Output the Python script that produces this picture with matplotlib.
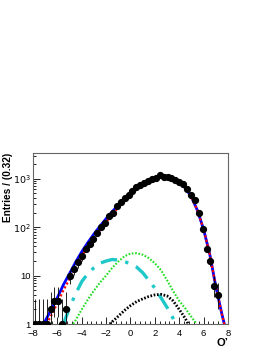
import numpy as np
import matplotlib
matplotlib.use("Agg")
import matplotlib.pyplot as plt
from matplotlib.ticker import FixedLocator, MultipleLocator, LogLocator, NullFormatter, FuncFormatter

plt.rcParams['font.family'] = ['Liberation Sans', 'DejaVu Sans']

# ---- data ----
bin_width = 0.32
bin_centers = [-7.84, -7.52, -7.20, -6.88, -6.56, -6.24, -5.92, -5.60, -5.28, -4.96,
               -4.64, -4.32, -4.00, -3.68, -3.36, -3.04, -2.72, -2.40, -2.08, -1.76,
               -1.44, -1.12, -0.80, -0.48, -0.16, 0.16, 0.48, 0.80, 1.12, 1.44,
               1.76, 2.08, 2.40, 2.72, 3.04, 3.36, 3.68, 4.00, 4.32, 4.64,
               4.96, 5.28, 5.60, 5.92, 6.24, 6.56, 6.88, 7.20, 7.52, 7.84]
counts = [1, 1, 1, 1, 2, 3, 3, 1, 2, 10,
          14, 19, 25, 36, 45, 58, 75, 100, 122, 170,
          200, 280, 330, 400, 470, 560, 680, 760, 830, 900,
          1000, 1060, 1200, 1110, 1080, 1040, 940, 860, 770, 600,
          470, 360, 195, 92, 36, 20, 6, 4, 0, 0]

# total fit (blue solid)
tot_x = [-7.1, -7.0, -6.5, -6.0, -5.5, -5.0, -4.5, -4.0, -3.5, -3.0, -2.5, -2.0, -1.5, -1.0,
         -0.5, 0.0, 0.5, 1.0, 1.5, 2.0, 2.5, 3.0, 3.5, 4.0, 4.5, 5.0, 5.5, 6.0, 6.5, 7.0, 7.5, 7.7]
tot_y = [1.0, 1.15, 2.0, 3.5, 6.5, 11, 19, 31, 48, 72, 105, 150, 210, 285,
         380, 500, 640, 790, 930, 1050, 1140, 1140, 1050, 870, 640, 420, 220, 90, 28, 6, 1.6, 1.0]
# red dotted component
red_x = [-6.9, -6.5, -6.0, -5.5, -5.0, -4.5, -4.0, -3.5, -3.0, -2.5, -2.0, -1.5, -1.0,
         -0.5, 0.0, 0.5, 1.0, 1.5, 2.0, 2.5, 3.0, 3.5, 4.0, 4.5, 5.0, 5.5, 6.0, 6.5, 7.0, 7.5, 7.7]
red_y = [1.0, 1.5, 2.7, 5.0, 8.5, 15, 25, 39, 60, 88, 128, 183, 255,
         345, 460, 600, 750, 895, 1020, 1120, 1130, 1045, 868, 640, 420, 220, 90, 28, 6, 1.6, 1.0]
# cyan dash-dot component
cyan_x = [-5.5, -5.0, -4.5, -4.0, -3.5, -3.0, -2.5, -2.0, -1.5, -1.0, -0.5, 0.0, 0.5,
          1.0, 1.5, 2.0, 2.5, 3.0, 3.5, 3.7]
cyan_y = [1.0, 2.2, 4.2, 7.5, 11, 14.5, 18, 20, 21.5, 21, 19.5, 17.5, 15,
          11.5, 8, 5.5, 3.5, 2.2, 1.3, 1.0]
# green dotted component
green_x = [-4.7, -4.5, -4.0, -3.5, -3.0, -2.5, -2.0, -1.5, -1.0, -0.5, 0.0, 0.5, 1.0,
           1.5, 2.0, 2.5, 3.0, 3.5, 4.0, 4.5, 5.0, 5.43]
green_y = [1.0, 1.2, 2.0, 3.2, 4.9, 7.2, 10, 14.5, 19.5, 25, 28.5, 29, 27,
           23, 18, 13, 8, 4.8, 3.0, 2.1, 1.4, 1.0]
# black dotted component
blk_x = [-1.7, -1.0, -0.5, 0.0, 0.5, 1.0, 1.5, 2.0, 2.5, 3.0, 3.5, 4.0, 4.5, 4.74]
blk_y = [1.0, 1.45, 1.9, 2.4, 2.9, 3.3, 3.7, 4.0, 4.1, 3.8, 3.0, 2.0, 1.3, 1.0]

# Poisson (68%) interval bounds for small counts
poisson_lo = {0: 0.0, 1: 0.173, 2: 0.708, 3: 1.367, 4: 2.086, 5: 2.840, 6: 3.620}
poisson_hi = {0: 1.841, 1: 3.300, 2: 4.638, 3: 5.918, 4: 7.163, 5: 8.382, 6: 9.584}

fig = plt.figure(figsize=(2.74, 3.55), dpi=100)
ax = fig.add_axes([0.1204, 0.0873, 0.832 - 0.1204, 0.569 - 0.0873])

x = np.array(bin_centers)
n = np.array(counts, dtype=float)
lo = np.array([poisson_lo[int(c)] if c <= 6 else c - np.sqrt(c) for c in counts])
hi = np.array([poisson_hi[int(c)] if c <= 6 else c + np.sqrt(c) for c in counts])
mask = n > 0

ax.plot(tot_x, tot_y, color='#0000ff', lw=2.0, zorder=3)
ax.plot(red_x, red_y, color='#ff0000', lw=1.6, ls=(0, (1, 1)), zorder=4)
ax.plot(cyan_x, cyan_y, color='#1ec8c8', lw=2.4, ls=(0, (5, 2.5, 1, 2.5)), zorder=3)
ax.plot(green_x, green_y, color='#22dd22', lw=1.5, ls=(0, (0.8, 0.8)), zorder=3)
ax.plot(blk_x, blk_y, color='black', lw=2.0, ls=(0, (0.6, 0.6)), zorder=3)

ax.errorbar(x[mask], n[mask], yerr=[n[mask] - lo[mask], hi[mask] - n[mask]],
            fmt='o', color='black', ms=4.2, elinewidth=0.6, capsize=0, zorder=5)

ax.set_yscale('log')
ax.set_xlim(-8, 8)
ax.set_ylim(1, 3400)

ax.xaxis.set_major_locator(MultipleLocator(2))
ax.xaxis.set_minor_locator(MultipleLocator(0.4))
ax.yaxis.set_major_locator(FixedLocator([1, 10, 100, 1000]))
ax.yaxis.set_minor_locator(LogLocator(base=10, subs=np.arange(2, 10)))
ax.yaxis.set_minor_formatter(NullFormatter())

def yfmt(v, pos):
    if abs(v - 1) < 1e-9:
        return '1'
    if abs(v - 10) < 1e-9:
        return '10'
    return r'$10^{%d}$' % int(round(np.log10(v)))
ax.yaxis.set_major_formatter(FuncFormatter(yfmt))
ax.xaxis.set_major_formatter(FuncFormatter(lambda v, p: ('\u2212%d' % -v) if v < 0 else '%d' % v))

ax.tick_params(axis='both', which='both', direction='in', labelsize=6.8, colors='black',
               top=False, right=False)
ax.tick_params(axis='y', which='both', pad=1.5)
ax.tick_params(axis='x', which='both', pad=3.5)
ax.tick_params(axis='both', which='major', length=5, width=0.6)
ax.tick_params(axis='both', which='minor', length=2.5, width=0.6)
for s in ax.spines.values():
    s.set_linewidth(0.8)
    s.set_color('#666666')

fig.text(0.028, 0.569, 'Entries / (0.32)', rotation=90, ha='center', va='top',
         fontsize=7.3, fontweight='bold')
fig.text(0.832, 0.02, 'O\u2019', ha='right', va='bottom', fontsize=8, fontweight='bold')

fig.savefig('out.png', dpi=100)
